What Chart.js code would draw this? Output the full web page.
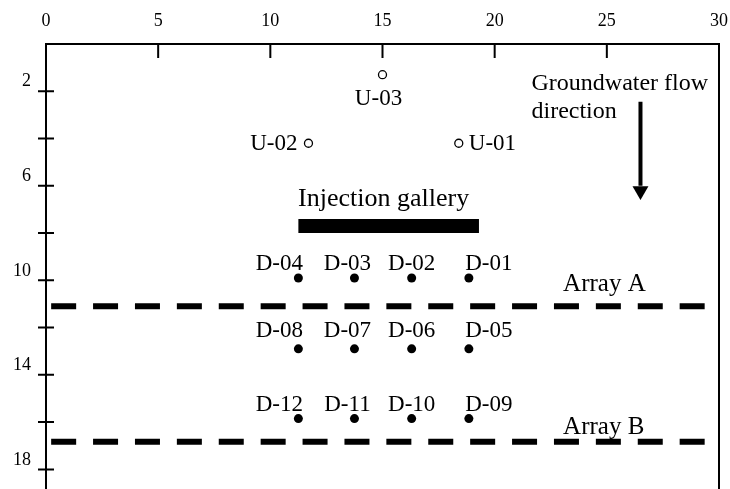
<!DOCTYPE html>
<html>
<head>
<meta charset="utf-8">
<script src="https://cdn.jsdelivr.net/npm/chart.js@4/dist/chart.umd.min.js"></script>
<style>
  html, body { margin: 0; padding: 0; background: #fff; overflow: hidden; }
  canvas { display: block; }
</style>
</head>
<body>
<canvas id="site" width="730" height="489"></canvas>
<script>
// Site layout: upgradient wells, injection gallery and downgradient monitoring arrays (m)
const xTickStep = 5;
const yTickStep = 2;
const yTickLabels = [2, 6, 10, 14, 18];

const upWells = ['U-01', 'U-02', 'U-03'];
const upX = [18.4, 11.7, 15.0];
const upY = [4.2, 4.2, 1.3];

const downWells = ['D-01', 'D-02', 'D-03', 'D-04',
                   'D-05', 'D-06', 'D-07', 'D-08',
                   'D-09', 'D-10', 'D-11', 'D-12'];
const downX = [18.85, 16.3, 13.75, 11.25,
               18.85, 16.3, 13.75, 11.25,
               18.85, 16.3, 13.75, 11.25];
const downY = [9.9, 9.9, 9.9, 9.9,
               12.9, 12.9, 12.9, 12.9,
               15.85, 15.85, 15.85, 15.85];

const galleryName = 'Injection gallery';
const galleryX = [11.25, 19.3];
const galleryY = 7.7;

const arrayNames = ['Array A', 'Array B'];
const arrayY = [11.1, 16.83];
const arrayX = [0.23, 29.45];

const flowText = ['Groundwater flow', 'direction'];
const flowX = 26.5;
const flowY = [2.44, 6.0];
const flowHeadY = 6.21;

// label placement (pixel offsets from the mark they name)
const downLabelDx = [20, 0, -7, -19];
const downLabelDy = [-8, -12, -8];
const upLabelPlace = [
  { dx: 10, dy: 7, align: 'left' },
  { dx: -11, dy: 7, align: 'right' },
  { dx: -4, dy: 30, align: 'center' }
];
const arrayLabelPlace = [{ x: 23.05, dy: -15 }, { x: 23.05, dy: -8 }];

const SERIF = "'Liberation Serif', 'Times New Roman', serif";

const frame = {
  id: 'frame',
  beforeDatasetsDraw(chart) {
    const { ctx, chartArea: a, scales: { x, y } } = chart;
    ctx.save();
    ctx.strokeStyle = '#000';
    ctx.lineWidth = 2;
    ctx.beginPath();
    ctx.moveTo(a.left, a.bottom + 2);
    ctx.lineTo(a.left, a.top);
    ctx.lineTo(a.right, a.top);
    ctx.lineTo(a.right, a.bottom + 2);
    x.ticks.forEach(t => {
      const px = x.getPixelForValue(t.value);
      ctx.moveTo(px, a.top);
      ctx.lineTo(px, a.top + 14);
    });
    y.ticks.forEach(t => {
      if (t.value === 0) return;
      const py = y.getPixelForValue(t.value);
      ctx.moveTo(a.left - 8, py);
      ctx.lineTo(a.left + 8, py);
    });
    ctx.stroke();
    ctx.restore();
  },
  afterDatasetsDraw(chart) {
    const { ctx, scales: { x, y } } = chart;
    ctx.save();
    ctx.fillStyle = '#000';
    ctx.textBaseline = 'alphabetic';
    ctx.font = '23px ' + SERIF;

    downWells.forEach((name, i) => {
      const col = i % 4, row = Math.floor(i / 4);
      ctx.textAlign = 'center';
      ctx.fillText(name, x.getPixelForValue(downX[i]) + downLabelDx[col],
                   y.getPixelForValue(downY[i]) + downLabelDy[row]);
    });

    upWells.forEach((name, i) => {
      const p = upLabelPlace[i];
      ctx.textAlign = p.align;
      ctx.fillText(name, x.getPixelForValue(upX[i]) + p.dx, y.getPixelForValue(upY[i]) + p.dy);
    });

    ctx.font = '25px ' + SERIF;
    arrayNames.forEach((name, i) => {
      ctx.textAlign = 'left';
      ctx.fillText(name, x.getPixelForValue(arrayLabelPlace[i].x),
                   y.getPixelForValue(arrayY[i]) + arrayLabelPlace[i].dy);
    });

    ctx.font = '24px ' + SERIF;
    const fx = x.getPixelForValue(flowX) - 109;
    const fy = y.getPixelForValue(flowY[0]);
    ctx.textAlign = 'left';
    ctx.fillText(flowText[0], fx, fy - 12);
    ctx.fillText(flowText[1], fx, fy + 16);

    ctx.font = '26px ' + SERIF;
    ctx.textAlign = 'center';
    ctx.fillText(galleryName,
                 x.getPixelForValue((galleryX[0] + galleryX[1]) / 2) - 5,
                 y.getPixelForValue(galleryY) - 20);
    ctx.restore();
  }
};

const lineSet = (pts, width, extra) => Object.assign({
  data: pts, showLine: true, borderColor: '#000', borderWidth: width,
  pointRadius: 0, borderCapStyle: 'butt', fill: false
}, extra || {});

// fixed axis bands, no extra room reserved for edge labels
const fixBand = (s, size) => {
  if (s.isHorizontal()) s.height = size; else s.width = size;
  s.paddingLeft = s.paddingRight = s.paddingTop = s.paddingBottom = 0;
};

new Chart(document.getElementById('site'), {
  type: 'scatter',
  data: {
    datasets: [
      lineSet(galleryX.map(v => ({ x: v, y: galleryY })), 14),
      ...arrayY.map(v => lineSet(arrayX.map(u => ({ x: u, y: v })), 6, { borderDash: [25, 16.9] })),
      lineSet(flowY.map(v => ({ x: flowX, y: v })), 4),
      {
        data: [{ x: flowX, y: flowHeadY }], pointStyle: 'triangle', rotation: 180,
        pointRadius: 9.2, backgroundColor: '#000', borderWidth: 0
      },
      {
        data: upX.map((v, i) => ({ x: v, y: upY[i] })), pointStyle: 'circle',
        pointRadius: 4, backgroundColor: '#fff', borderColor: '#000', borderWidth: 1.3
      },
      {
        data: downX.map((v, i) => ({ x: v, y: downY[i] })), pointStyle: 'circle',
        pointRadius: 4.5, backgroundColor: '#000', borderColor: '#000', borderWidth: 0
      }
    ]
  },
  options: {
    responsive: false,
    animation: false,
    events: [],
    layout: { autoPadding: false, padding: { top: 0, left: 0, right: 11, bottom: 0 } },
    plugins: { legend: { display: false }, tooltip: { enabled: false } },
    scales: {
      x: {
        type: 'linear', position: 'top', min: 0, max: 30,
        grid: { display: false, drawTicks: false },
        border: { display: false },
        ticks: { stepSize: xTickStep, color: '#000', padding: 12, font: { family: SERIF, size: 18 } },
        afterFit(s) { fixBand(s, 44); }
      },
      y: {
        type: 'linear', reverse: true, min: 0, max: 18.83,
        grid: { display: false, drawTicks: false },
        border: { display: false },
        ticks: {
          stepSize: yTickStep, includeBounds: false, color: '#000', padding: 15,
          labelOffset: -9.5, font: { family: SERIF, size: 18 },
          callback: v => (yTickLabels.includes(v) ? String(v) : '')
        },
        afterFit(s) { fixBand(s, 46); }
      }
    }
  },
  plugins: [frame]
});
</script>
</body>
</html>
